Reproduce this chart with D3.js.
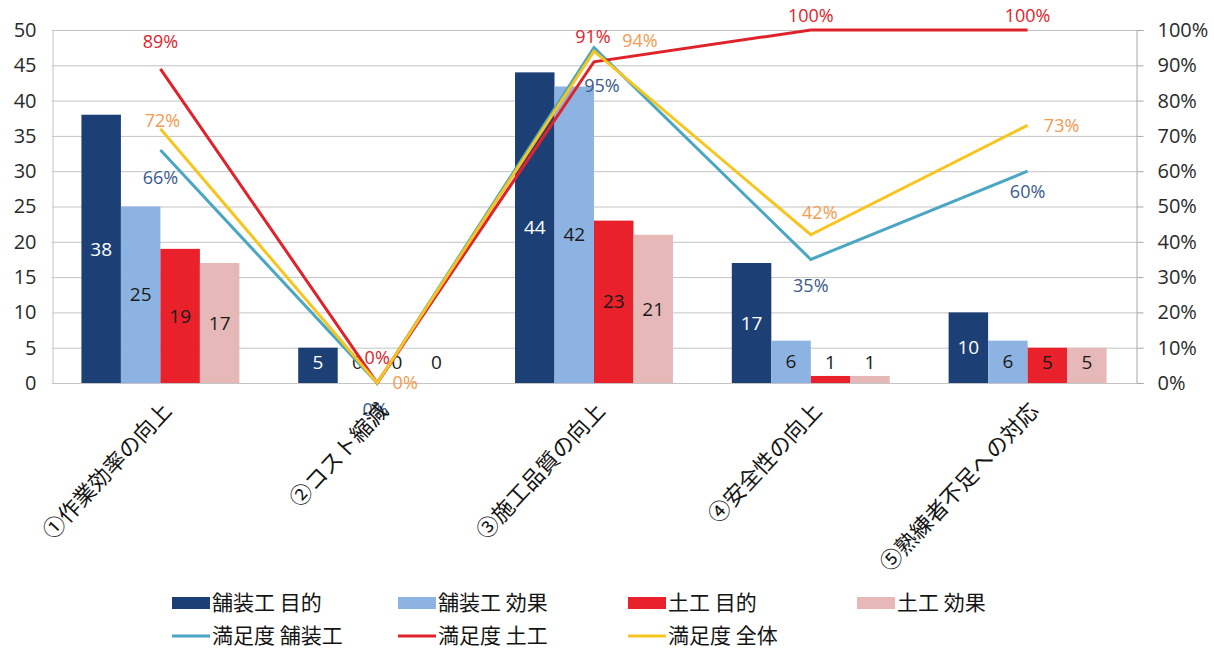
<!DOCTYPE html>
<html>
<head>
<meta charset="utf-8">
<script src="https://cdn.jsdelivr.net/npm/d3@7"></script>
<style>
  html, body { margin: 0; padding: 0; background: #fff; }
  svg { display: block; font-family: "Noto Sans CJK JP", "Noto Sans", sans-serif; }
</style>
</head>
<body>
<svg id="chart" width="1214" height="653"></svg>
<script>
// Categories (x axis)
const categories = ["①作業効率の向上", "②コスト縮減", "③施工品質の向上", "④安全性の向上", "⑤熟練者不足への対応"];

// Bar series (counts, left axis)
const barSeriesNames = ["舗装工 目的", "舗装工 効果", "土工 目的", "土工 効果"];
const paveGoal   = [38, 5, 44, 17, 10];
const paveEffect = [25, 0, 42, 6, 6];
const earthGoal  = [19, 0, 23, 1, 5];
const earthEffect = [17, 0, 21, 1, 5];

// Line series (satisfaction, right axis)
const lineSeriesNames = ["満足度 舗装工", "満足度 土工", "満足度 全体"];
const satPave  = [0.66, 0, 0.95, 0.35, 0.60];
const satEarth = [0.89, 0, 0.91, 1.00, 1.00];
const satAll   = [0.72, 0, 0.94, 0.42, 0.73];

// Axis ticks
const leftTicks = [0, 5, 10, 15, 20, 25, 30, 35, 40, 45, 50];
const rightTicks = [0, 0.1, 0.2, 0.3, 0.4, 0.5, 0.6, 0.7, 0.8, 0.9, 1.0];

// ---- styling ----
const barColors = ["#1c3f75", "#8db3e2", "#e8212b", "#e6b9b8"];
const barLabelColors = ["#ffffff", "#1a1a1a", "#1a1a1a", "#1a1a1a"];
const lineColors = ["#4aa6c2", "#e0232b", "#f7c520"];
const lineLabelColors = ["#3a5a8c", "#e0232b", "#f59a4e"];
// label offsets (dx, dy) from each point, per line series
const lineLabelOffsets = [
  [[0, 28], [-2, 27], [8, 38], [0, 26], [0, 20]],
  [[0, -27], [0, -25], [-1, -25], [0, -30], [0, -30]],
  [[2, -8], [28, 0], [46, -10], [9, -22], [34, 0]]
];

const svg = d3.select("#chart");
const M = { left: 52, right: 1136, top: 30, bottom: 383 };

const x0 = d3.scaleBand().domain(categories).range([M.left, M.right]).padding(0);
const x1 = d3.scaleBand().domain(barSeriesNames).range([0, x0.bandwidth()])
  .paddingInner(0).paddingOuter(0.745);
const yL = d3.scaleLinear().domain([0, 50]).range([M.bottom, M.top]);
const yR = d3.scaleLinear().domain([0, 1]).range([M.bottom, M.top]);

// gridlines
svg.append("g")
  .selectAll("line").data(leftTicks).join("line")
  .attr("x1", M.left).attr("x2", M.right)
  .attr("y1", d => yL(d) + 0.5).attr("y2", d => yL(d) + 0.5)
  .attr("stroke", "#c4c4c4").attr("stroke-width", 1);

// left axis
const axL = svg.append("g").attr("transform", `translate(${M.left + 0.5},0)`)
  .call(d3.axisLeft(yL).tickValues(leftTicks).tickSize(0).tickPadding(16));
axL.select(".domain").attr("stroke", "#c4c4c4");
axL.selectAll("text").attr("font-size", 20).attr("fill", "#2a2a2a")
  .attr("font-family", "'Open Sans', 'Noto Sans', sans-serif");

// right axis
const axR = svg.append("g").attr("transform", `translate(${M.right + 0.5},0)`)
  .call(d3.axisRight(yR).tickValues(rightTicks).tickFormat(d3.format(".0%")).tickSize(7).tickPadding(14));
axR.select(".domain").attr("stroke", "#a8a8a8");
axR.selectAll(".tick line").attr("stroke", "#a8a8a8");
axR.selectAll("text").attr("font-size", 20).attr("fill", "#2a2a2a")
  .attr("font-family", "'Open Sans', 'Noto Sans', sans-serif");

// bars
const barData = [paveGoal, paveEffect, earthGoal, earthEffect];
const barGroups = svg.append("g").selectAll("g").data(barData).join("g")
  .attr("fill", (d, i) => barColors[i]);
barGroups.each(function (vals, si) {
  const g = d3.select(this);
  g.selectAll("rect").data(vals).join("rect")
    .attr("x", (v, ci) => x0(categories[ci]) + x1(barSeriesNames[si]))
    .attr("width", x1.bandwidth())
    .attr("y", v => yL(v))
    .attr("height", v => yL(0) - yL(v));
});

// bar value labels
const barLabels = svg.append("g")
  .attr("font-family", "'Open Sans', 'Noto Sans', sans-serif")
  .attr("font-size", 19).attr("text-anchor", "middle");
barData.forEach((vals, si) => {
  barLabels.selectAll(null).data(vals).join("text")
    .attr("x", (v, ci) => x0(categories[ci]) + x1(barSeriesNames[si]) + x1.bandwidth() / 2)
    .attr("y", v => Math.min((yL(v) + yL(0)) / 2, yL(0) - 21))
    .attr("dy", "0.35em")
    .attr("fill", barLabelColors[si])
    .text(v => v);
});

// lines
const lineData = [satPave, satEarth, satAll];
const cx = i => x0(categories[i]) + x0.bandwidth() / 2;
const line = d3.line().x((v, i) => cx(i)).y(v => yR(v));
svg.append("g").selectAll("path").data(lineData).join("path")
  .attr("d", line)
  .attr("fill", "none")
  .attr("stroke", (d, i) => lineColors[i])
  .attr("stroke-width", 3)
  .attr("stroke-linejoin", "miter");

// line value labels
const lineLabels = svg.append("g")
  .attr("font-family", "'Open Sans', 'Noto Sans', sans-serif")
  .attr("font-size", 18).attr("text-anchor", "middle");
lineData.forEach((vals, si) => {
  lineLabels.selectAll(null).data(vals).join("text")
    .attr("x", (v, i) => cx(i) + lineLabelOffsets[si][i][0])
    .attr("y", (v, i) => Math.max(yR(v) + lineLabelOffsets[si][i][1], 16))
    .attr("dy", "0.35em")
    .attr("fill", lineLabelColors[si])
    .text(v => d3.format(".0%")(v));
});

// category labels, rotated
svg.append("g").selectAll("text").data(categories).join("text")
  .attr("transform", d => `translate(${x0(d) + x0.bandwidth() / 2 + 5},405) rotate(-47)`)
  .attr("text-anchor", "end")
  .attr("dominant-baseline", "central")
  .attr("font-size", 22)
  .attr("fill", "#141414")
  .text(d => d);

// legend
const legendX = [172, 398, 628, 857];
const legend = svg.append("g").attr("font-size", 21).attr("fill", "#141414");
barSeriesNames.forEach((name, i) => {
  legend.append("rect").attr("x", legendX[i]).attr("y", 597).attr("width", 38).attr("height", 12)
    .attr("fill", barColors[i]);
  legend.append("text").attr("x", legendX[i] + 40).attr("y", 603).attr("dy", "0.35em").text(name);
});
lineSeriesNames.forEach((name, i) => {
  legend.append("line").attr("x1", legendX[i]).attr("x2", legendX[i] + 38)
    .attr("y1", 636).attr("y2", 636)
    .attr("stroke", lineColors[i]).attr("stroke-width", 3);
  legend.append("text").attr("x", legendX[i] + 40).attr("y", 636).attr("dy", "0.35em").text(name);
});
</script>
</body>
</html>
